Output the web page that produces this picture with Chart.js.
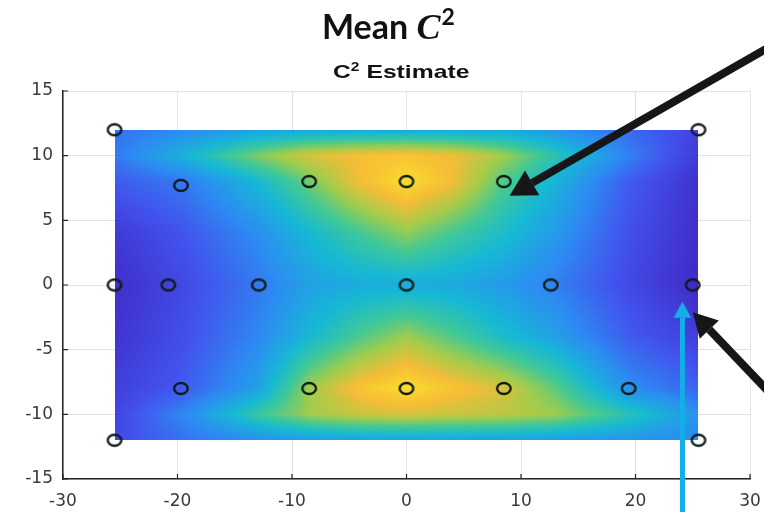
<!DOCTYPE html>
<html>
<head>
<meta charset="utf-8">
<script src="https://cdn.jsdelivr.net/npm/chart.js@4.4.1/dist/chart.umd.min.js"></script>
<style>
  html, body { margin: 0; padding: 0; background: #fff; }
  #wrap { position: relative; width: 764px; height: 512px; overflow: hidden; }
  #title { position: absolute; left: 322px; top: 4px; white-space: nowrap;
           font-family: Lato, "Open Sans", sans-serif; font-weight: bold; font-size: 34px; color: #111; }
  #title i { font-family: "Liberation Serif", "DejaVu Serif", serif; font-weight: bold; font-size: 36px; }
  #title sup { font-size: 23px; position: relative; top: -2px; margin-left: 1px; }
  #sub { position: absolute; left: 333px; top: 60px; white-space: nowrap; transform-origin: left top;
         transform: scaleX(1.3);
         font-family: "Liberation Sans", Arial, sans-serif; font-weight: bold; font-size: 19px; color: #111; }
  #sub sup { font-size: 12px; }
</style>
</head>
<body>
<div id="wrap">
  <canvas id="c2-chart" width="764" height="512"></canvas>
  <div id="title">Mean <i>C</i><sup>2</sup></div>
  <div id="sub">C<sup>2</sup> Estimate</div>
</div>
<script>
// grid nodes of the estimated surface
const xNodes = [-25.5, -19.5, -13, -8.5, -4, 0, 4, 8.5, 13, 19.5, 25.5];
const yNodes = [12, 10, 8, 4, 0, -4, -8, -10, -12];
// normalised C^2 estimate, one row per yNodes entry (top to bottom)
const zRow12  = [0.26, 0.33, 0.40, 0.42, 0.42, 0.42, 0.42, 0.42, 0.36, 0.24, 0.12];
const zRow10  = [0.28, 0.46, 0.68, 0.80, 0.86, 0.88, 0.84, 0.72, 0.55, 0.30, 0.08];
const zRow8   = [0.20, 0.28, 0.48, 0.66, 0.85, 0.96, 0.85, 0.62, 0.46, 0.20, 0.05];
const zRow4   = [0.08, 0.18, 0.34, 0.48, 0.60, 0.70, 0.60, 0.50, 0.38, 0.16, 0.04];
const zRow0   = [0.04, 0.14, 0.28, 0.40, 0.44, 0.44, 0.43, 0.38, 0.30, 0.14, 0.02];
const zRowM4  = [0.06, 0.16, 0.32, 0.48, 0.62, 0.72, 0.62, 0.50, 0.40, 0.20, 0.10];
const zRowM8  = [0.10, 0.20, 0.40, 0.72, 0.88, 0.96, 0.88, 0.80, 0.64, 0.34, 0.22];
const zRowM10 = [0.12, 0.32, 0.58, 0.72, 0.78, 0.80, 0.78, 0.76, 0.72, 0.54, 0.36];
const zRowM12 = [0.14, 0.26, 0.34, 0.38, 0.40, 0.40, 0.40, 0.40, 0.38, 0.36, 0.32];
const zRows = [zRow12, zRow10, zRow8, zRow4, zRow0, zRowM4, zRowM8, zRowM10, zRowM12];

// sample locations (circles)
const sampleX = [-25.5, 25.5, -25.5, 25.5, -8.5, 0, 8.5, -8.5, 0, 8.5, -25.5, -20.8, -12.9, 0, 12.6, 25, -19.7, -19.7, 19.4];
const sampleY = [12, 12, -12, -12, 8, 8, 8, -8, -8, -8, 0, 0, 0, 0, 0, 0, 7.7, -8, -8];

const xTicks = [-30, -20, -10, 0, 10, 20, 30];
const yTicks = [15, 10, 5, 0, -5, -10, -15];

// colour map stops
const cmap = [
  [0.00, [64, 36, 192]],
  [0.18, [66, 84, 238]],
  [0.33, [44, 140, 242]],
  [0.48, [22, 184, 212]],
  [0.60, [64, 200, 150]],
  [0.72, [160, 204, 76]],
  [0.85, [246, 188, 54]],
  [1.00, [250, 232, 40]]
];

function colorAt(v) {
  v = Math.max(0, Math.min(1, v));
  for (let i = 1; i < cmap.length; i++) {
    if (v <= cmap[i][0]) {
      const a = cmap[i - 1], b = cmap[i];
      const t = (v - a[0]) / (b[0] - a[0]);
      return [0, 1, 2].map(k => Math.round(a[1][k] + (b[1][k] - a[1][k]) * t));
    }
  }
  return cmap[cmap.length - 1][1];
}

function findCell(nodes, v) {
  const asc = nodes[0] < nodes[nodes.length - 1];
  for (let i = 0; i < nodes.length - 1; i++) {
    const lo = nodes[i], hi = nodes[i + 1];
    if ((asc && v >= lo && v <= hi) || (!asc && v <= lo && v >= hi)) {
      return [i, (v - lo) / (hi - lo)];
    }
  }
  return (v < nodes[0]) === asc ? [0, 0] : [nodes.length - 2, 1];
}

function surface(vx, vy) {
  const [i, tx] = findCell(xNodes, vx);
  const [j, ty] = findCell(yNodes, vy);
  const a = zRows[j][i], b = zRows[j][i + 1], c = zRows[j + 1][i], d = zRows[j + 1][i + 1];
  return (a * (1 - tx) + b * tx) * (1 - ty) + (c * (1 - tx) + d * tx) * ty;
}

// draws the interpolated surface under the sample circles
const heatPlugin = {
  id: 'heat',
  beforeDatasetsDraw(chart) {
    const { ctx, scales: { x, y } } = chart;
    const px0 = Math.round(x.getPixelForValue(xNodes[0]));
    const px1 = Math.round(x.getPixelForValue(xNodes[xNodes.length - 1]));
    const py0 = Math.round(y.getPixelForValue(yNodes[0]));
    const py1 = Math.round(y.getPixelForValue(yNodes[yNodes.length - 1]));
    const w = px1 - px0, h = py1 - py0;
    const img = ctx.createImageData(w, h);
    for (let j = 0; j < h; j++) {
      const vy = y.getValueForPixel(py0 + j + 0.5);
      for (let i = 0; i < w; i++) {
        const vx = x.getValueForPixel(px0 + i + 0.5);
        const col = colorAt(surface(vx, vy));
        const k = (j * w + i) * 4;
        img.data[k] = col[0]; img.data[k + 1] = col[1]; img.data[k + 2] = col[2]; img.data[k + 3] = 255;
      }
    }
    ctx.putImageData(img, px0, py0);
  }
};

// small inward tick marks like matlab axes
const tickPlugin = {
  id: 'inTicks',
  afterDraw(chart) {
    const { ctx, chartArea: a, scales: { x, y } } = chart;
    ctx.save();
    ctx.strokeStyle = '#262626';
    ctx.lineWidth = 1.2;
    ctx.beginPath();
    x.ticks.forEach(t => {
      const p = x.getPixelForValue(t.value);
      ctx.moveTo(p, a.bottom); ctx.lineTo(p, a.bottom - 5);
    });
    y.ticks.forEach(t => {
      const p = y.getPixelForValue(t.value);
      ctx.moveTo(a.left, p); ctx.lineTo(a.left + 5, p);
    });
    ctx.stroke();
    ctx.restore();
  }
};

// annotation arrows, in data units
const arrows = [
  { from: [32.5, 18.8], to: [9.0, 6.9], color: '#161616', width: 8, head: 26 },
  { from: [32, -8.6], to: [25.0, -2.1], color: '#161616', width: 8, head: 24 },
  { from: [24.1, -19], to: [24.1, -1.3], color: '#14aee6', width: 5, head: 16 }
];

const arrowPlugin = {
  id: 'arrows',
  afterDraw(chart) {
    const { ctx, scales: { x, y } } = chart;
    ctx.save();
    arrows.forEach(a => {
      const x0 = x.getPixelForValue(a.from[0]), y0 = y.getPixelForValue(a.from[1]);
      const x1 = x.getPixelForValue(a.to[0]), y1 = y.getPixelForValue(a.to[1]);
      const ang = Math.atan2(y1 - y0, x1 - x0);
      const bx = x1 - Math.cos(ang) * a.head, by = y1 - Math.sin(ang) * a.head;
      ctx.strokeStyle = a.color;
      ctx.fillStyle = a.color;
      ctx.lineWidth = a.width;
      ctx.beginPath();
      ctx.moveTo(x0, y0);
      ctx.lineTo(bx, by);
      ctx.stroke();
      const hw = a.head * 0.55;
      ctx.beginPath();
      ctx.moveTo(x1, y1);
      ctx.lineTo(bx + Math.sin(ang) * hw, by - Math.cos(ang) * hw);
      ctx.lineTo(bx - Math.sin(ang) * hw, by + Math.cos(ang) * hw);
      ctx.closePath();
      ctx.fill();
    });
    ctx.restore();
  }
};

// circle marker, a bit wider than tall (figure was stretched)
const ring = document.createElement('canvas');
ring.width = 18; ring.height = 15;
const rc = ring.getContext('2d');
rc.strokeStyle = '#0f1c16';
rc.lineWidth = 2.3;
rc.beginPath();
rc.ellipse(9, 7.5, 6.8, 5.5, 0, 0, Math.PI * 2);
rc.stroke();

const tickFont = { family: '"DejaVu Sans", "Liberation Sans", sans-serif', size: 17 };

new Chart(document.getElementById('c2-chart'), {
  type: 'scatter',
  data: {
    datasets: [{
      label: 'Samples',
      data: sampleX.map((v, i) => ({ x: v, y: sampleY[i] })),
      pointStyle: ring,
      pointRadius: 7
    }]
  },
  options: {
    responsive: false,
    animation: false,
    layout: { padding: { top: 91, right: 14, left: 0, bottom: 0 } },
    plugins: { legend: { display: false }, tooltip: { enabled: false } },
    scales: {
      x: {
        type: 'linear', min: -30, max: 30,
        afterBuildTicks: s => { s.ticks = xTicks.map(v => ({ value: v })); },
        afterFit: s => { s.height = 33; s.paddingLeft = 0; s.paddingRight = 0; },
        grid: { color: '#e2e2e2', drawTicks: false },
        border: { display: true, color: '#262626', width: 1.5 },
        ticks: { color: '#3a3a3a', font: tickFont, padding: 12, maxRotation: 0 }
      },
      y: {
        type: 'linear', min: -15, max: 15,
        afterBuildTicks: s => { s.ticks = yTicks.map(v => ({ value: v })); },
        afterFit: s => { s.width = 63; s.paddingTop = 0; s.paddingBottom = 0; },
        grid: { color: '#e2e2e2', drawTicks: false },
        border: { display: true, color: '#262626', width: 1.5 },
        ticks: { color: '#3a3a3a', font: tickFont, padding: 10 }
      }
    }
  },
  plugins: [heatPlugin, tickPlugin, arrowPlugin]
});
</script>
</body>
</html>
